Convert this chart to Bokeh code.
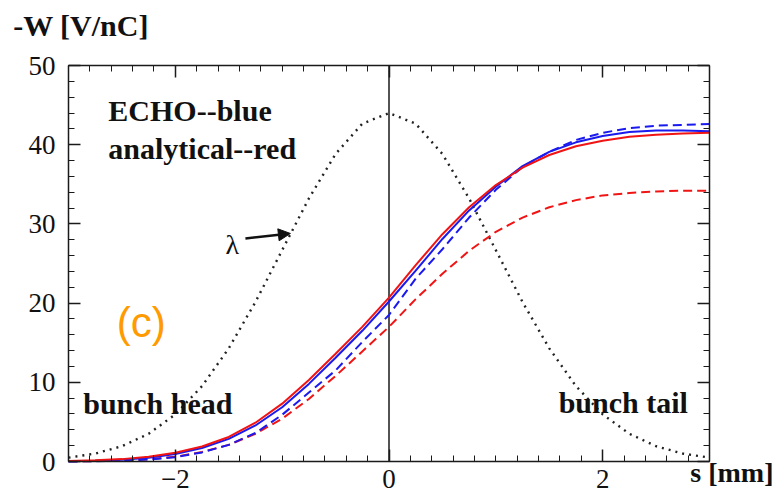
from bokeh.plotting import figure
from bokeh.models import (LinearAxis, SingleIntervalTicker, Label, Arrow, NormalHead,
                          Range1d, CustomJSTickFormatter)
from bokeh.embed import file_html
from bokeh.resources import INLINE

# longitudinal position along the bunch [mm]
s_mm = [-3.0, -2.75, -2.5, -2.25, -2.0, -1.75, -1.5, -1.25, -1.0, -0.75, -0.5, -0.25,
        0.0, 0.25, 0.5, 0.75, 1.0, 1.25, 1.5, 1.75, 2.0, 2.25, 2.5, 2.75, 3.0]

# -W [V/nC]
analytical_solid = [0.05, 0.15, 0.3, 0.6, 1.1, 1.9, 3.1, 4.9, 7.3, 10.3, 13.6, 17.0,
                    20.7, 24.8, 28.7, 32.1, 34.9, 37.1, 38.7, 39.8, 40.5, 41.0, 41.25, 41.4, 41.5]
echo_solid = [0.03, 0.1, 0.22, 0.48, 0.95, 1.7, 2.85, 4.55, 6.85, 9.8, 13.1, 16.5,
              20.2, 24.1, 28.1, 31.7, 34.7, 37.3, 39.1, 40.3, 41.1, 41.6, 41.8, 41.8, 41.7]
echo_dashed = [0.0, 0.04, 0.1, 0.25, 0.55, 1.15, 2.1, 3.6, 5.9, 8.7, 11.5, 15.1,
               18.5, 23.1, 26.8, 30.8, 34.3, 37.2, 39.1, 40.6, 41.5, 42.1, 42.4, 42.5, 42.6]
analytical_dashed = [0.02, 0.05, 0.13, 0.3, 0.6, 1.2, 2.1, 3.5, 5.4, 7.9, 10.8, 13.9,
                     17.0, 20.5, 23.7, 26.6, 29.0, 30.8, 32.1, 33.0, 33.6, 33.9, 34.1, 34.2, 34.2]
# bunch line density (arbitrary scale)
lam = [0.49, 1.0, 1.93, 3.5, 5.95, 9.52, 14.29, 20.14, 26.69, 33.21, 38.83, 42.65,
       44.0, 42.65, 38.83, 33.21, 26.69, 20.14, 14.29, 9.52, 5.95, 3.5, 1.93, 1.0, 0.49]

x_tick_labels = {-2: "\u22122", 0: "0", 2: "2"}

S_MIN, S_MAX = -3.0, 3.0
W_MIN, W_MAX = 0.0, 50.0

RED = "#f01414"
BLUE = "#1a1aee"
INK = "#1a1a1a"
SERIF = "Liberation Serif"

# plotting box inside a 776x494 canvas: left 68, right 709, top 65, bottom 461 px
PX_PER_MM = 641 / 6.0
PX_PER_W = 396 / 50.0
x_range = Range1d(S_MIN - 68 / PX_PER_MM, S_MAX + 67 / PX_PER_MM)
y_range = Range1d(W_MIN - 33 / PX_PER_W, W_MAX + 65 / PX_PER_W)

p = figure(width=776, height=494, x_range=x_range, y_range=y_range,
           output_backend="svg", toolbar_location=None,
           x_axis_location=None, y_axis_location=None, min_border=0)
p.xgrid.visible = False
p.ygrid.visible = False
p.outline_line_color = None
p.background_fill_color = "white"
p.border_fill_color = "white"

blank = CustomJSTickFormatter(code="return ''")

def make_axis(loc, bounds, interval, minor, labelled):
    ax = LinearAxis(fixed_location=loc, bounds=bounds,
                    ticker=SingleIntervalTicker(interval=interval, num_minor_ticks=minor))
    ax.axis_line_color = INK
    ax.axis_line_width = 1.5
    ax.major_tick_line_color = INK
    ax.minor_tick_line_color = INK
    ax.major_tick_line_width = 1.5
    ax.minor_tick_line_width = 1
    ax.major_tick_in = 12
    ax.major_tick_out = 0
    ax.minor_tick_in = 6
    ax.minor_tick_out = 0
    ax.major_label_text_font = SERIF
    ax.major_label_text_font_size = "27px"
    ax.major_label_text_color = "#111111"
    if not labelled:
        ax.formatter = blank
    return ax

bottom = make_axis(W_MIN, (S_MIN, S_MAX), 2, 10, True)
bottom.major_label_overrides = x_tick_labels
bottom.major_label_standoff = 8
left = make_axis(S_MIN, (W_MIN, W_MAX), 10, 5, True)
left.major_label_standoff = 13
top = make_axis(W_MAX, (S_MIN, S_MAX), 2, 10, False)
right = make_axis(S_MAX, (W_MIN, W_MAX), 10, 5, False)
p.add_layout(bottom, "below")
p.add_layout(left, "left")
p.add_layout(top, "above")
p.add_layout(right, "right")

# s = 0 reference line
p.line([0, 0], [W_MIN, W_MAX], line_color=INK, line_width=1.5)

# curves
p.line(s_mm, lam, line_color="#222222", line_width=2.4, line_dash="2 5")
p.line(s_mm, analytical_dashed, line_color=RED, line_width=2, line_dash="9 5")
p.line(s_mm, echo_dashed, line_color=BLUE, line_width=2, line_dash="9 5")
p.line(s_mm, echo_solid, line_color=BLUE, line_width=2)
p.line(s_mm, analytical_solid, line_color=RED, line_width=2)

def bold_text(x, y, t, size="30px"):
    p.add_layout(Label(x=x, y=y, text=t, text_font=SERIF, text_font_style="bold",
                       text_font_size=size, text_color="#111111", text_baseline="alphabetic"))

bold_text(-3.518, 55.08, "-W [V/nC]")
bold_text(2.82, -1.41, "s [mm]", size="28px")
bold_text(-2.627, 44.38, "ECHO--blue")
bold_text(-2.627, 39.51, "analytical--red")
bold_text(-2.862, 7.31, "bunch head")
bold_text(1.588, 7.51, "bunch tail")

p.add_layout(Label(x=-1.466, y=27.46, text="\u03bb", text_font=SERIF, text_font_size="28px",
                   text_color="#111111", text_align="center", text_baseline="alphabetic"))
p.add_layout(Arrow(end=NormalHead(size=12, fill_color="#111111", line_color="#111111"),
                   x_start=-1.344, y_start=28.16, x_end=-0.923, y_end=28.79,
                   line_color="#111111", line_width=2.5))

p.add_layout(Label(x=-2.318, y=17.5, text="(c)", text_font="Liberation Sans",
                   text_font_size="42px", text_color="#ff9a00", text_align="center",
                   text_baseline="alphabetic"))

open("out.html", "w").write(file_html(p, INLINE))
